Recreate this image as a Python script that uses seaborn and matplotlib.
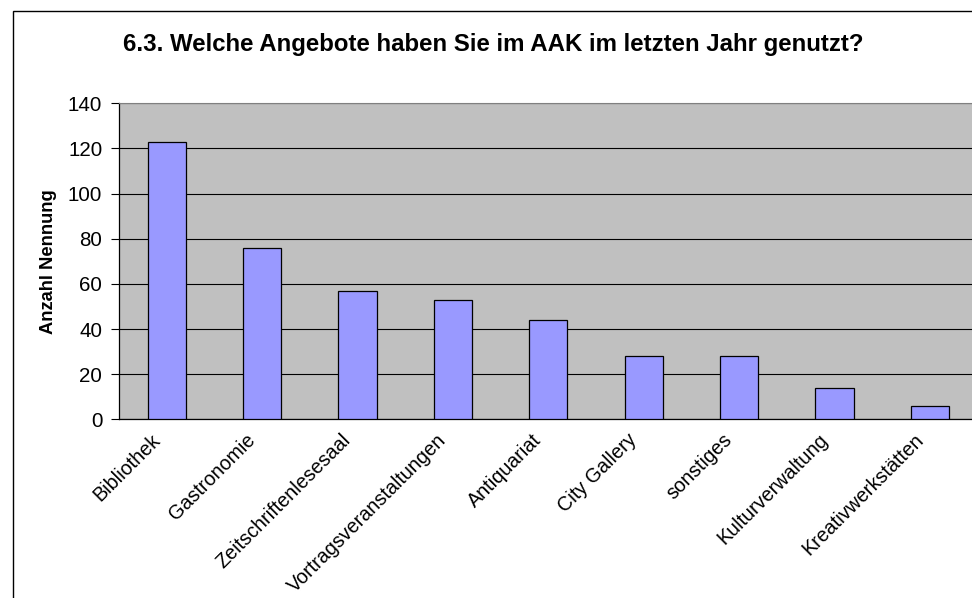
import pandas as pd
import seaborn as sns
import matplotlib.pyplot as plt
from matplotlib.patches import Rectangle

# Werte
angebote = ["Bibliothek", "Gastronomie", "Zeitschriftenlesesaal",
            "Vortragsveranstaltungen", "Antiquariat", "City Gallery",
            "sonstiges", "Kulturverwaltung", "Kreativwerkstätten"]
nennungen = [123, 76, 57, 53, 44, 28, 28, 14, 6]
y_ticks = [0, 20, 40, 60, 80, 100, 120, 140]

df = pd.DataFrame({"angebot": angebote, "anzahl": nennungen})

sns.set_style("white")
plt.rcParams["font.family"] = ["Liberation Sans", "DejaVu Sans"]
plt.rcParams["text.color"] = "black"
plt.rcParams["axes.labelcolor"] = "black"
plt.rcParams["xtick.color"] = "black"
plt.rcParams["ytick.color"] = "black"

fig = plt.figure(figsize=(9.72, 5.98), dpi=100)
ax = fig.add_axes([119 / 972, 1 - 419.3 / 598, 858.6 / 972, 316 / 598])
ax.set_facecolor("#C0C0C0")

sns.barplot(x="angebot", y="anzahl", data=df, color="#9999FF", width=0.4,
            edgecolor="black", linewidth=0.9, saturation=1, ax=ax, zorder=3)

ax.set_ylim(0, 140)
ax.set_xlim(-0.5, len(angebote) - 0.5)
ax.set_yticks(y_ticks)
ax.set_yticklabels([str(t) for t in y_ticks], fontsize=14.8)
ax.yaxis.grid(True, color="black", linewidth=0.8, zorder=1)
ax.set_axisbelow(True)

# Striche zwischen den Kategorien wie bei Excel
ax.set_xticks([i - 0.5 for i in range(len(angebote) + 1)], minor=True)
ax.tick_params(axis="x", which="minor", length=5, width=0.8, color="black", direction="out")
ax.tick_params(axis="x", which="major", length=0, pad=8)
ax.tick_params(axis="y", length=6, width=0.8, color="black", direction="out", pad=6, left=True)
ax.set_xticks([i - 0.17 for i in range(len(angebote))])
ax.set_xticklabels(angebote, rotation=45, ha="right", rotation_mode="anchor", fontsize=14.2)

for side in ["left", "bottom"]:
    ax.spines[side].set_color("black")
    ax.spines[side].set_linewidth(0.9)
ax.spines["top"].set_color("#808080")
ax.spines["right"].set_color("#808080")

ax.set_xlabel("")
ax.set_ylabel("Anzahl Nennung", fontsize=13.2, fontweight="bold", labelpad=8)

fig.text(493 / 972, 1 - 44 / 598, "6.3. Welche Angebote haben Sie im AAK im letzten Jahr genutzt?",
         ha="center", va="center", fontsize=17.3, fontweight="bold")

# Rahmen um das Diagramm
fig.patches.append(Rectangle((13 / 972, -0.1), 1.2, 1.1 - 11 / 598,
                             transform=fig.transFigure, fill=False,
                             edgecolor="black", linewidth=1.0))

fig.savefig("out.png", dpi=100)
